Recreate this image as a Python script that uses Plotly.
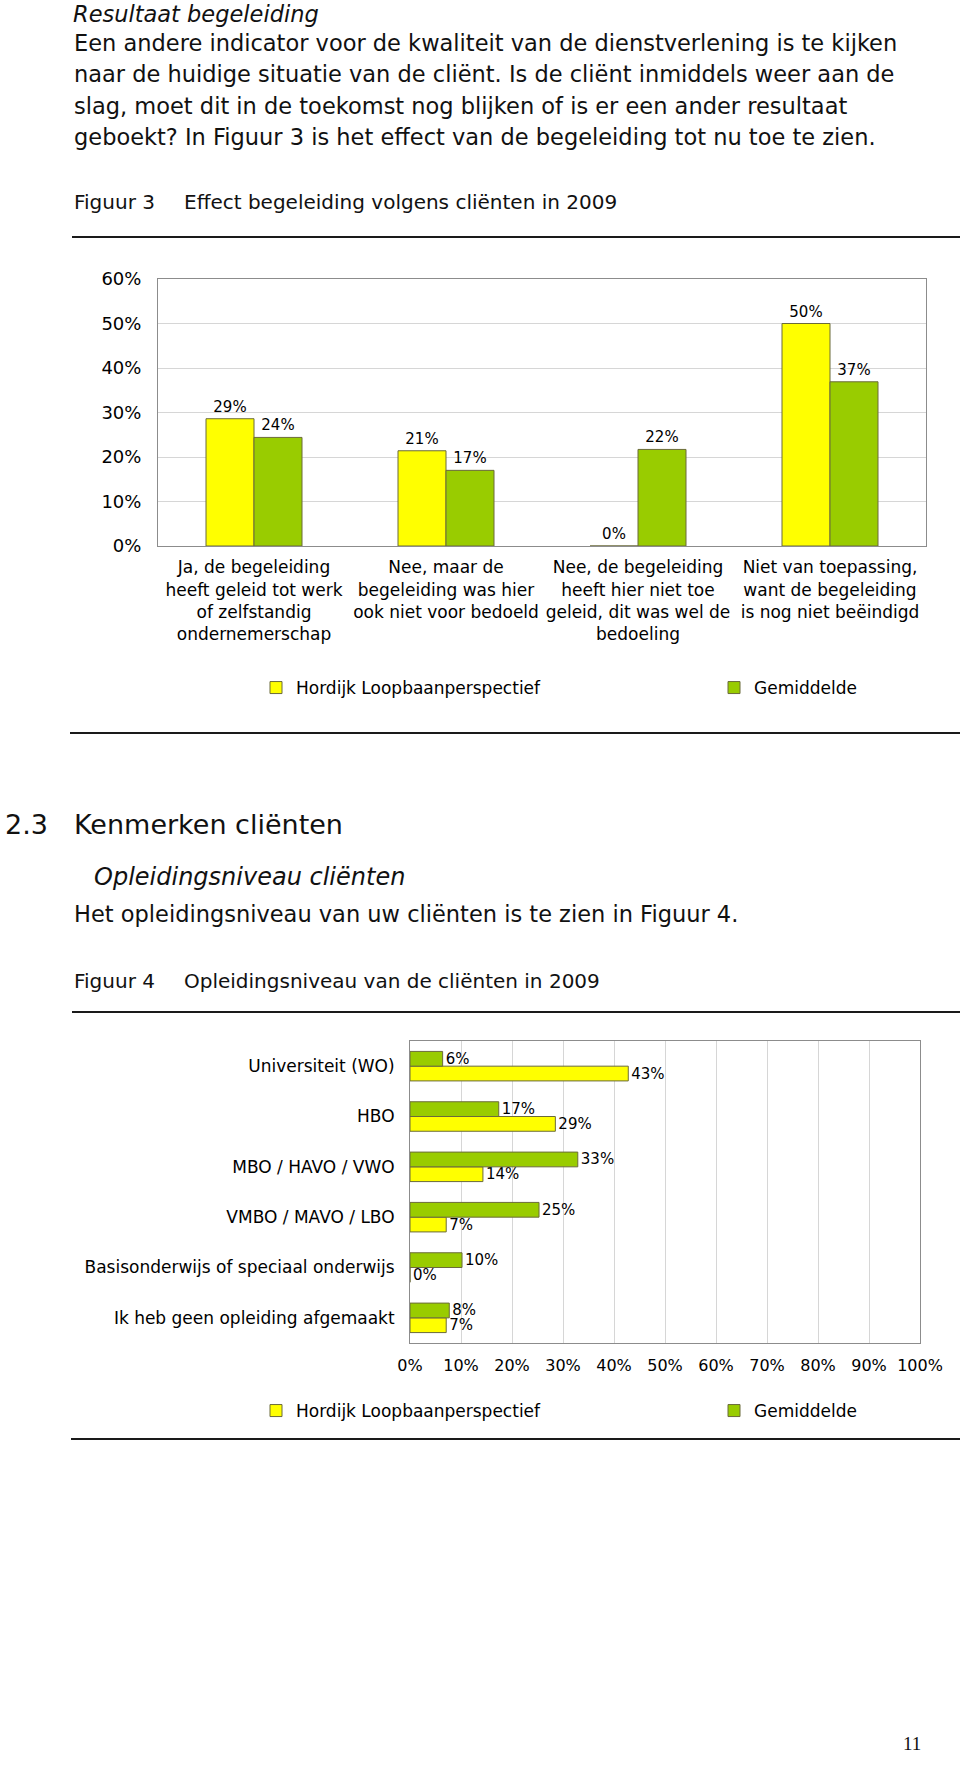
import plotly.graph_objects as go

W, H = 960, 1765

# Figuur 3 data
cat3 = ["Ja, de begeleiding<br>heeft geleid tot werk<br>of zelfstandig<br>ondernemerschap",
        "Nee, maar de<br>begeleiding was hier<br>ook niet voor bedoeld",
        "Nee, de begeleiding<br>heeft hier niet toe<br>geleid, dit was wel de<br>bedoeling",
        "Niet van toepassing,<br>want de begeleiding<br>is nog niet beëindigd"]
hordijk3 = [28.6, 21.4, 0, 50.0]
gemiddelde3 = [24.4, 17.0, 21.7, 36.9]

# Figuur 4 data
cat4 = ["Universiteit (WO)", "HBO", "MBO / HAVO / VWO", "VMBO / MAVO / LBO",
        "Basisonderwijs of speciaal onderwijs", "Ik heb geen opleiding afgemaakt"]
hordijk4 = [42.8, 28.5, 14.3, 7.1, 0, 7.1]
gemiddelde4 = [6.4, 17.4, 32.9, 25.3, 10.2, 7.7]

series = ["Hordijk Loopbaanperspectief", "Gemiddelde"]
YELLOW, GREEN, EDGE = "#FFFF00", "#99CC00", "#6b6b3a"
FONT = "DejaVu Sans, Verdana, sans-serif"


def px(x):
    return x / W


def py(y):
    return 1 - y / H


fig = go.Figure()

bar_style = dict(textposition="outside", constraintext="none", cliponaxis=False,
                 textfont=dict(size=15, color="#000"))

# figuur 3: vertical grouped bars
fig.add_trace(go.Bar(x=cat3, y=hordijk3, name=series[0], marker=dict(color=YELLOW, line=dict(color=EDGE, width=1)),
                     width=0.25, offset=-0.25, texttemplate="%{y:.0f}%",
                     xaxis="x", yaxis="y", legend="legend", **bar_style))
fig.add_trace(go.Bar(x=cat3, y=gemiddelde3, name=series[1], marker=dict(color=GREEN, line=dict(color=EDGE, width=1)),
                     width=0.25, offset=0, texttemplate="%{y:.0f}%",
                     xaxis="x", yaxis="y", legend="legend2", **bar_style))

# figuur 4: horizontal bars, green on top, yellow below
fig.add_trace(go.Bar(y=cat4, x=hordijk4, name=series[0], orientation="h",
                     marker=dict(color=YELLOW, line=dict(color=EDGE, width=1)),
                     width=0.293, offset=0, texttemplate="%{x:.0f}%",
                     xaxis="x2", yaxis="y2", legend="legend3", **bar_style))
fig.add_trace(go.Bar(y=cat4, x=gemiddelde4, name=series[1], orientation="h",
                     marker=dict(color=GREEN, line=dict(color=EDGE, width=1)),
                     width=0.293, offset=-0.293, texttemplate="%{x:.0f}%",
                     xaxis="x2", yaxis="y2", legend="legend4", **bar_style))

axis_line = "#8c8c8c"
grid = "#d6d6d6"

leg = dict(orientation="h", xanchor="left", yanchor="middle", font=dict(size=17, color="#000"),
           bgcolor="rgba(0,0,0,0)")

fig.update_layout(
    width=W, height=H, autosize=False,
    margin=dict(l=0, r=0, t=0, b=0, pad=0, autoexpand=False),
    paper_bgcolor="white", plot_bgcolor="white",
    font=dict(family=FONT, size=17, color="#000"),
    barmode="group",
    showlegend=True,
    xaxis=dict(domain=[px(158), px(926)], anchor="y", showline=True, mirror=True, linecolor=axis_line,
               showgrid=False, ticks="", tickangle=0, tickfont=dict(size=17), ticklabelstandoff=6),
    yaxis=dict(domain=[py(546), py(279)], anchor="x", range=[0, 60], dtick=10, ticksuffix="%",
               showline=True, mirror=True, linecolor=axis_line, gridcolor=grid, zeroline=False,
               ticks="", tickfont=dict(size=18), ticklabelstandoff=12),
    xaxis2=dict(domain=[px(410), px(920)], anchor="y2", range=[0, 100], dtick=10, ticksuffix="%",
                showline=True, mirror=True, linecolor=axis_line, gridcolor=grid, zeroline=False,
                ticks="", tickangle=0, tickfont=dict(size=16), ticklabelstandoff=8),
    yaxis2=dict(domain=[py(1343), py(1041)], anchor="x2", autorange="reversed", showline=True, mirror=True,
                linecolor=axis_line, showgrid=False, ticks="", tickfont=dict(size=17), ticklabelstandoff=11),
    legend=dict(leg, x=px(256), y=py(688)),
    legend2=dict(leg, x=px(714), y=py(688)),
    legend3=dict(leg, x=px(256), y=py(1411)),
    legend4=dict(leg, x=px(714), y=py(1411)),
)

annotations = [
    ("Een andere indicator voor de kwaliteit van de dienstverlening is te kijken", 72, 43, 22.5, "normal"),
    ("naar de huidige situatie van de cliënt. Is de cliënt inmiddels weer aan de", 72, 74, 22.5, "normal"),
    ("slag, moet dit in de toekomst nog blijken of is er een ander resultaat", 72, 106, 22.5, "normal"),
    ("geboekt? In Figuur 3 is het effect van de begeleiding tot nu toe te zien.", 72, 137, 22.5, "normal"),
    ("Figuur 3", 72, 202, 20, "normal"),
    ("Effect begeleiding volgens cliënten in 2009", 182, 202, 20, "normal"),
    ("2.3", 3, 825, 27, "normal"),
    ("Kenmerken cliënten", 72, 825, 27, "normal"),
    ("Opleidingsniveau cliënten", 92, 877, 24, "italic"),
    ("Het opleidingsniveau van uw cliënten is te zien in Figuur 4.", 72, 914, 22.5, "normal"),
    ("Figuur 4", 72, 981, 20, "normal"),
    ("Opleidingsniveau van de cliënten in 2009", 182, 981, 20, "normal"),
]
for text, x, y, size, style in annotations:
    fig.add_annotation(text=text, x=px(x), y=py(y), xref="paper", yref="paper", xanchor="left",
                       yanchor="middle", showarrow=False, font=dict(family=FONT, size=size, style=style, color="#111"))

# heading at the very top of the page
fig.add_annotation(text="Resultaat begeleiding", x=px(72), y=1, xref="paper", yref="paper", xanchor="left",
                   yanchor="top", borderpad=0, showarrow=False,
                   font=dict(family=FONT, size=22.5, style="italic", color="#111"))

fig.add_annotation(text="11", x=px(923), y=py(1756), xref="paper", yref="paper", showarrow=False,
                   font=dict(family="Liberation Serif, serif", size=19, color="#111"))

for y, x0 in [(237, 72), (733, 70), (1012, 72), (1439, 71)]:
    fig.add_shape(type="line", xref="paper", yref="paper", x0=px(x0), x1=1, y0=py(y), y1=py(y),
                  line=dict(color="#1a1a1a", width=2))

# page without body margin so the 960x1765 figure fills the window
fig.write_html("out.html", config={"displayModeBar": False},
               post_script="document.documentElement.style.margin='0';"
                           "document.body.style.margin='0';document.body.style.padding='0';")
